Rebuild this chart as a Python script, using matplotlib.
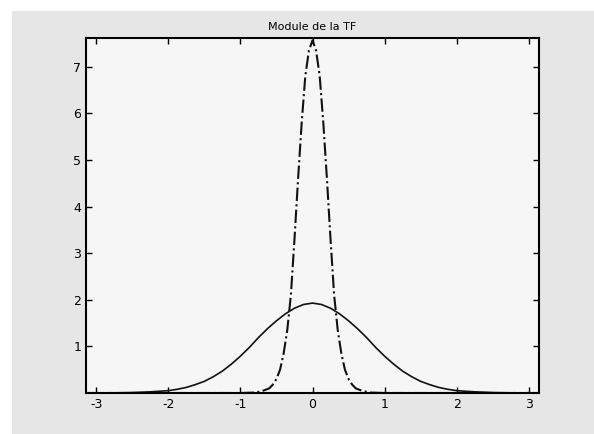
import numpy as np
import matplotlib
matplotlib.use("Agg")
from matplotlib import pyplot as plt
from matplotlib.patches import Rectangle

plt.rcParams['axes.unicode_minus'] = False

# values (symmetric around 0)
x_wide = [-3.14, -2.75, -2.5, -2.25, -2.0, -1.875, -1.75, -1.625, -1.5, -1.375, -1.25, -1.125,
          -1.0, -0.875, -0.75, -0.625, -0.5, -0.375, -0.25, -0.125, 0.0,
          0.125, 0.25, 0.375, 0.5, 0.625, 0.75, 0.875, 1.0, 1.125, 1.25, 1.375, 1.5,
          1.625, 1.75, 1.875, 2.0, 2.25, 2.5, 2.75, 3.14]
y_wide = [0.0, 0.003, 0.01, 0.025, 0.05, 0.08, 0.12, 0.18, 0.25, 0.35, 0.47, 0.62,
          0.79, 0.98, 1.19, 1.38, 1.55, 1.70, 1.82, 1.90, 1.93,
          1.90, 1.82, 1.70, 1.55, 1.38, 1.19, 0.98, 0.79, 0.62, 0.47, 0.35, 0.25,
          0.18, 0.12, 0.08, 0.05, 0.025, 0.01, 0.003, 0.0]

x_narrow = [-3.14, -1.0, -0.8, -0.7, -0.6, -0.55, -0.5, -0.45, -0.4, -0.35, -0.3, -0.25, -0.2,
            -0.15, -0.1, -0.05, 0.0, 0.05, 0.1, 0.15, 0.2, 0.25, 0.3, 0.35, 0.4, 0.45, 0.5,
            0.55, 0.6, 0.7, 0.8, 1.0, 3.14]
y_narrow = [0.0, 0.0, 0.01, 0.04, 0.1, 0.18, 0.3, 0.5, 0.85, 1.35, 2.1, 3.3, 4.6,
            5.8, 6.8, 7.35, 7.57, 7.35, 6.8, 5.8, 4.6, 3.3, 2.1, 1.35, 0.85, 0.5, 0.3,
            0.18, 0.1, 0.04, 0.01, 0.0, 0.0]

xticks = [-3, -2, -1, 0, 1, 2, 3]
yticks = [1, 2, 3, 4, 5, 6, 7]

fig = plt.figure(figsize=(5.94, 4.34), dpi=100, facecolor='white')
fig.patches.append(Rectangle((12/594, 0), 1, 1 - 11/434, transform=fig.transFigure,
                             facecolor='#e6e6e6', edgecolor='none', zorder=-1))

ax = fig.add_axes([86/594, 1 - 393/434, (539 - 86)/594, (393 - 38)/434])
ax.set_facecolor('#f6f6f6')
ax.plot(x_wide, y_wide, color='#111111', linewidth=1.2, linestyle='-')
ax.plot(x_narrow, y_narrow, color='#111111', linewidth=1.5, linestyle='-.')

ax.set_xlim(-np.pi, np.pi)
ax.set_ylim(0, 7.62)
ax.set_xticks(xticks)
ax.set_yticks(yticks)
ax.tick_params(direction='in', top=True, right=True, length=4, labelsize=9, width=1)
for s in ax.spines.values():
    s.set_linewidth(1.5)
ax.set_title('Module de la TF', fontsize=8, pad=6)

plt.savefig('out.png', dpi=100, facecolor=fig.get_facecolor())
